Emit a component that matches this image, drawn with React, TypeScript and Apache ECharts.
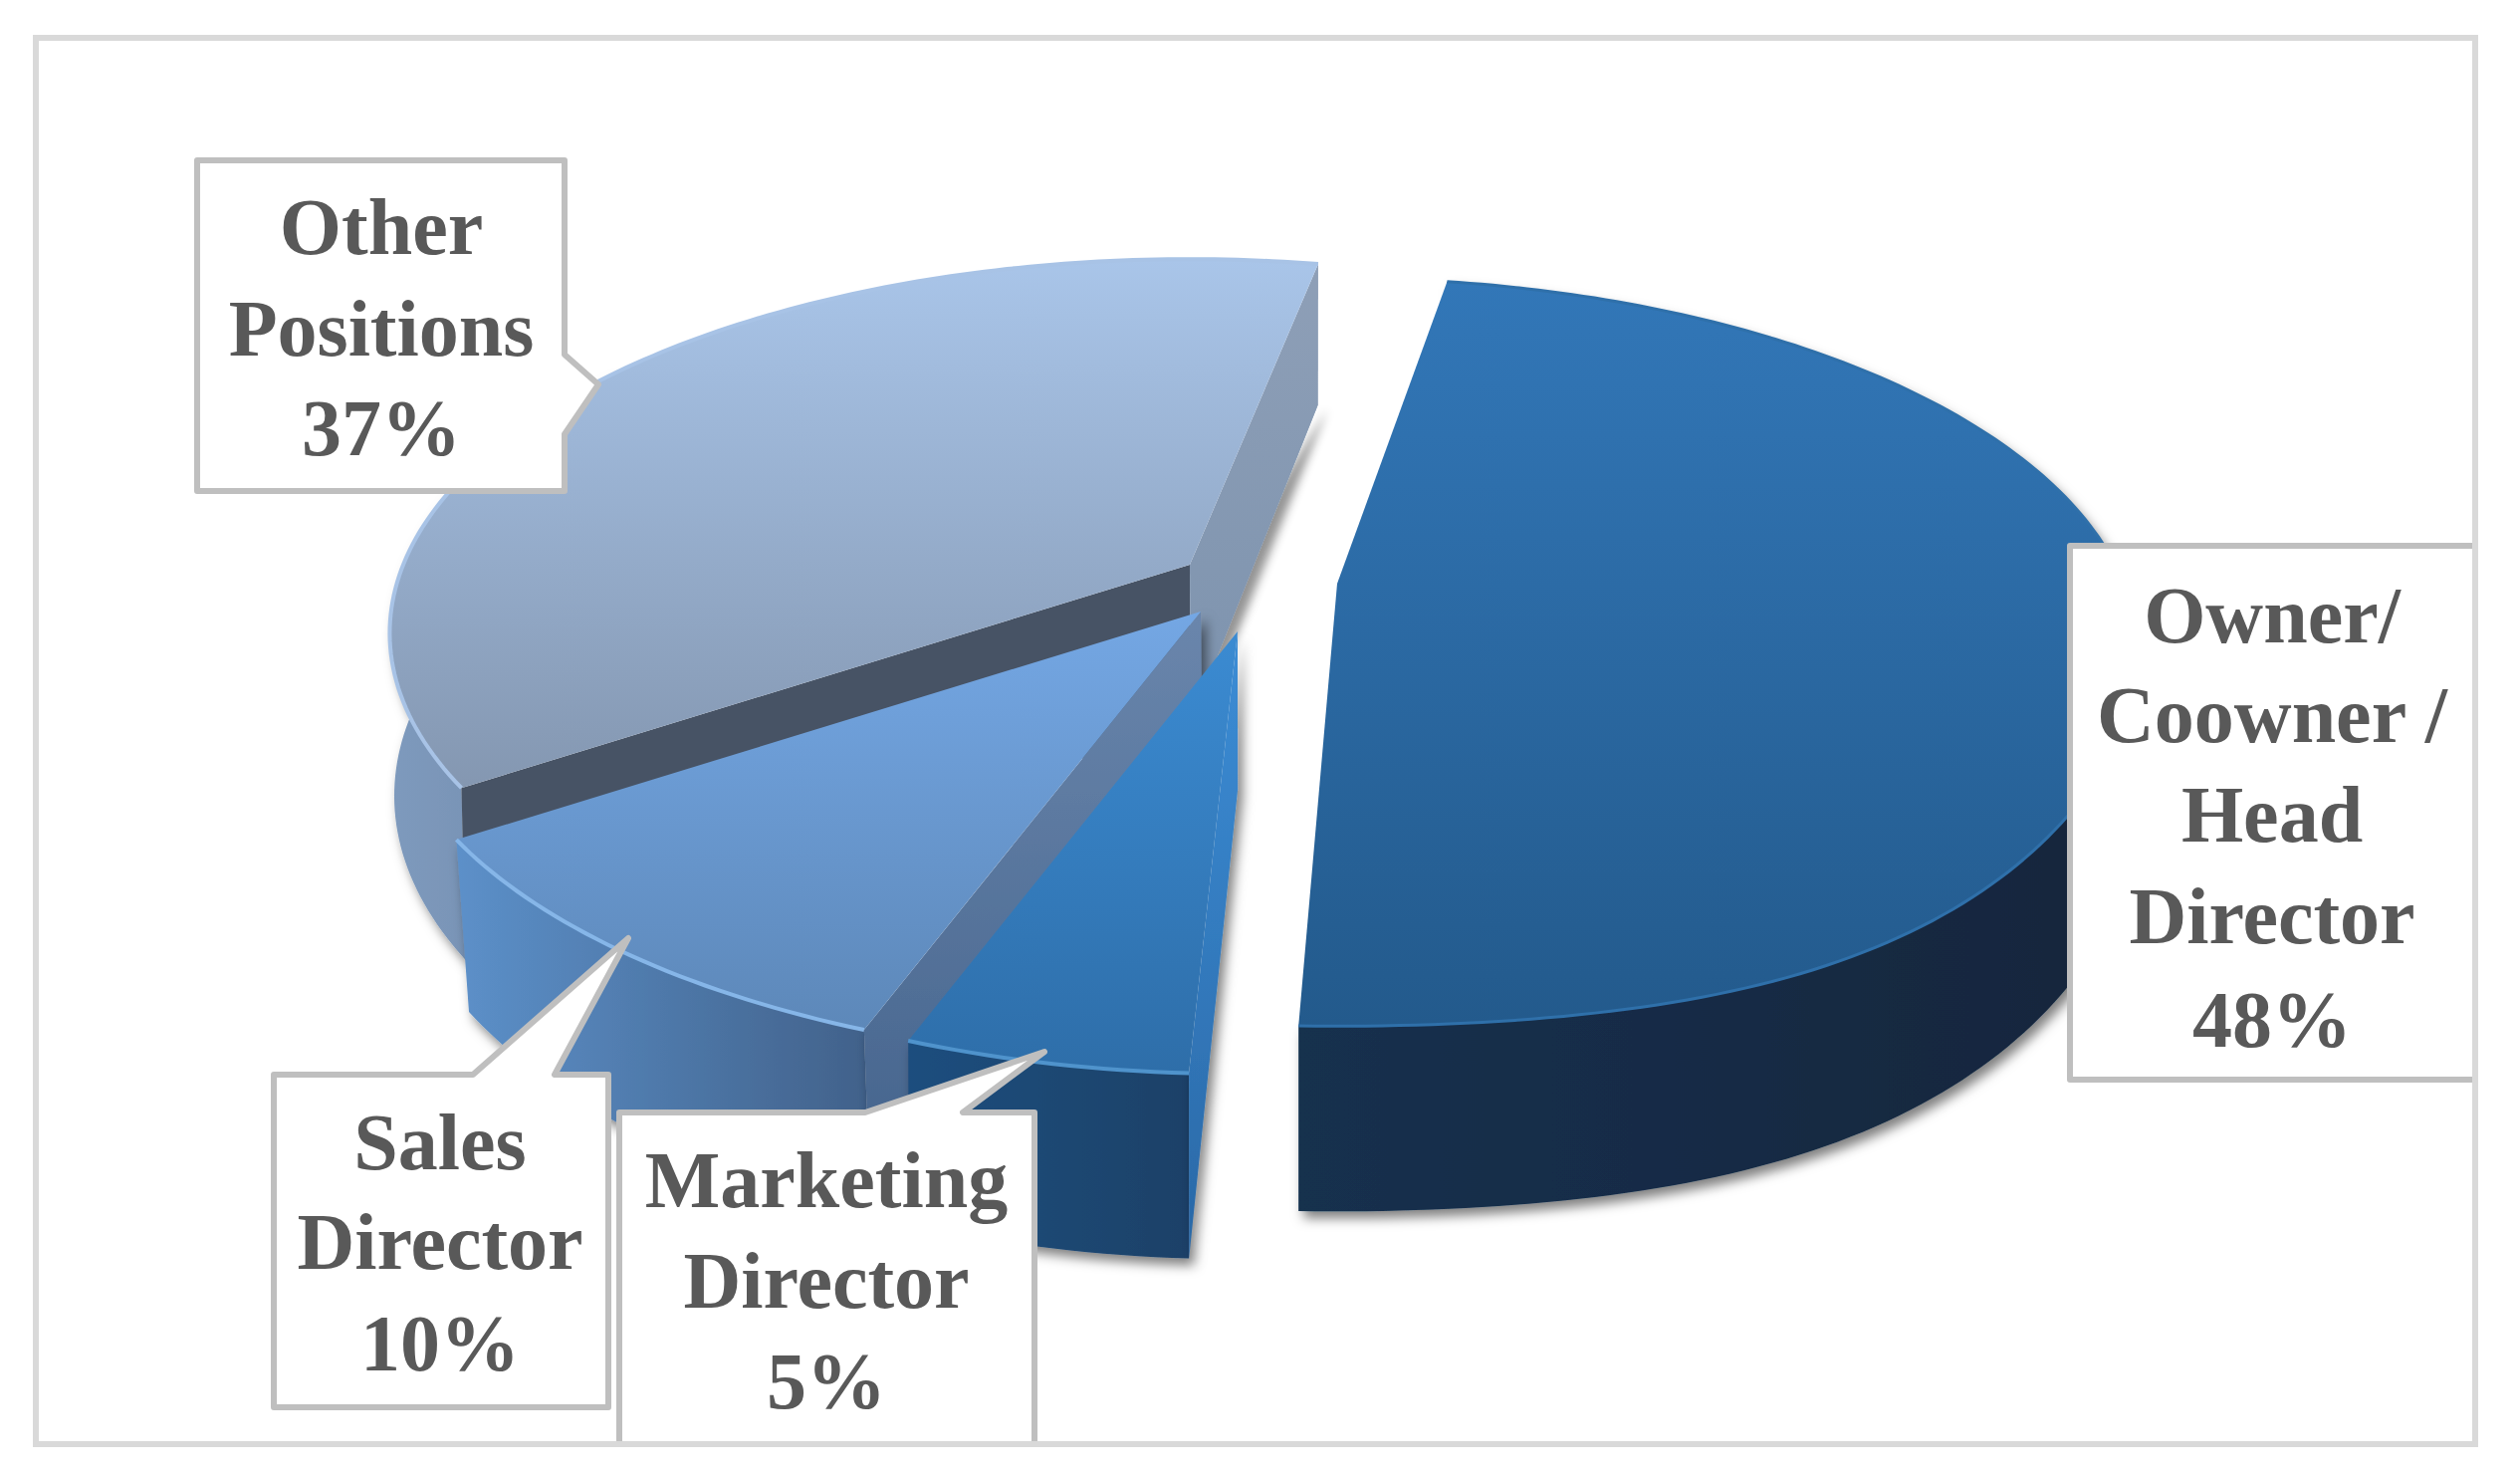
import React, { useEffect, useRef } from "react";
import * as echarts from "echarts";

const categories = ["Owner/Coowner/Head Director", "Marketing Director", "Sales Director", "Other Positions"];
const shares = [48, 5, 10, 37];
const labelLines = [
  ["Owner/", "Coowner /", "Head", "Director", "48%"],
  ["Marketing", "Director", "5%"],
  ["Sales", "Director", "10%"],
  ["Other", "Positions", "37%"],
];

const W = 2531;
const H = 1482;
const START_DEG = 9.5;
const RX = 790;
const RZ = 363;
const K = 0.183;
const VX = 1300;
const INK = "#595959";
const FONT = '"Liberation Serif", serif';

const grad = (a: string, b: string, horizontal = false) => ({
  type: "linear",
  x: 0,
  y: 0,
  x2: horizontal ? 1 : 0,
  y2: horizontal ? 0 : 1,
  colorStops: [
    { offset: 0, color: a },
    { offset: 1, color: b },
  ],
});

const looks: any[] = [
  { apex: [1343, 586], top: ["#3277b8", "#235a8c"], wall: ["#14304e", "#12263c"], rim: "#2f70aa", rimW: 3, bulge: 0.06, shrink: 0.999 },
  { apex: [1243, 634], top: ["#3b8bd2", "#2e6ea9"], wall: ["#1f4e7e", "#1d4168"], rim: "#4f93cc", rimW: 4, cut: ["#3c8dd6", "#2a68a6"], nudge: 0.6, shrink: 0.999 },
  { apex: [1206, 614], top: ["#74a7e4", "#5d88b9"], wall: ["#5c90c9", "#41618a"], rim: "#86b6e8", rimW: 4, cut: ["#6a86ac", "#42618a"], scale: 1.022, shrink: 0.985 },
  { apex: [1195, 567], top: ["#a9c5e9", "#8497b1"], wall: ["#7e9abd", "#6f88a9"], rim: "#a8c3e6", rimW: 4, cutEnd: ["#8e9fb7", "#7d93ae"], dark: "#475365", endExtra: 1.6, wallSpan: 70, shrink: 0.995 },
];

const total = shares.reduce((a, b) => a + b, 0);
const startOf = (i: number) => START_DEG + (shares.slice(0, i).reduce((a, b) => a + b, 0) / total) * 360;

function topPoint(i: number, deg: number) {
  const look = looks[i];
  const t = (deg * Math.PI) / 180;
  const c = Math.cos(t);
  const s = look.scale || 1;
  const z = -c;
  const w = 1 / (1 - K * z);
  const s2 = Math.sin(2 * t);
  const bulge = look.bulge && c < 0 ? 1 + look.bulge * s2 * s2 : 1;
  const [ax, ay] = look.apex;
  return { x: ax + s * RX * Math.sin(t) * w, y: ay + s * RZ * z * w * bulge, w };
}
const apexPoint = (i: number) => ({ x: looks[i].apex[0], y: looks[i].apex[1], w: 1 });
const drop = (i: number, p: { x: number; y: number; w: number }) => ({
  x: VX + (p.x - VX) * looks[i].shrink,
  y: p.y + 141 + (p.w - 0.846) * 119,
  w: p.w,
});
const xy = (p: { x: number; y: number }) => [p.x, p.y];

function renderSlice(params: any, api: any) {
  const i = api.value(1);
  const look = looks[i];
  const a0 = startOf(i) + (look.nudge || 0);
  const a1 = a0 + (api.value(0) / total) * 360 - (look.nudge || 0) + (look.endExtra || 0);
  const sample = (from: number, to: number) => {
    const out: any[] = [];
    const steps = Math.max(8, Math.round(to - from));
    for (let s = 0; s <= steps; s++) out.push(topPoint(i, from + ((to - from) * s) / steps));
    return out;
  };
  const arc = sample(a0, a1);
  const wallArc = look.wallSpan ? sample(a0, a0 + look.wallSpan) : arc;
  const apex = apexPoint(i);
  const first = arc[0];
  const last = arc[arc.length - 1];
  const down = (p: any) => drop(i, p);
  const children: any[] = [];
  const shadow = { shadowBlur: 12, shadowColor: "rgba(0,0,0,0.5)", shadowOffsetX: 5, shadowOffsetY: 7 };

  children.push({
    type: "polygon",
    shape: { points: [...wallArc.map(xy), ...wallArc.slice().reverse().map((p) => xy(down(p)))] },
    style: { fill: grad(look.wall[0], look.wall[1], true), ...shadow },
  });
  if (look.dark) {
    children.push({
      type: "polygon",
      shape: { points: [xy(apex), xy(first), xy(down(first)), xy(down(apex))] },
      style: { fill: look.dark },
    });
  }
  if (look.cutEnd) {
    // soft cast shadow only along the lower edge of the cut face
    children.push({
      type: "polygon",
      shape: { points: [xy(down(last)), xy(down(apex)), [apex.x + 5, apex.y + 40]] },
      style: { fill: look.cutEnd[1], shadowBlur: 10, shadowColor: "rgba(0,0,0,0.42)", shadowOffsetX: 9, shadowOffsetY: 5 },
    });
    children.push({
      type: "polygon",
      shape: { points: [xy(apex), xy(last), xy(down(last)), xy(down(apex))] },
      style: { fill: grad(look.cutEnd[0], look.cutEnd[1]) },
    });
  }
  if (look.cut) {
    children.push({
      type: "polygon",
      shape: { points: [xy(apex), xy(first), xy(down(first)), xy(down(apex))] },
      style: { fill: grad(look.cut[0], look.cut[1]), ...shadow },
    });
  }
  children.push({
    type: "polygon",
    shape: { points: [xy(apex), ...arc.map(xy)] },
    style: { fill: grad(look.top[0], look.top[1]) },
  });
  children.push({
    type: "polyline",
    shape: { points: arc.map(xy) },
    style: { stroke: look.rim, lineWidth: look.rimW, fill: "none" },
  });
  return { type: "group", children };
}

const STROKE = "#bfbfbf";
const callouts = [
  {
    points: [[2079, 548], [2486, 548], [2486, 1084], [2079, 1084]],
    cx: 2282,
    base: [644, 744, 844, 946, 1050],
  },
  {
    points: [[622, 1117], [869, 1117], [1049, 1056], [967, 1117], [1039, 1117], [1039, 1460], [622, 1460]],
    cx: 830,
    base: [1211, 1312, 1413],
  },
  {
    points: [[275, 1079], [475, 1079], [631, 942], [557, 1079], [611, 1079], [611, 1413], [275, 1413]],
    cx: 442,
    base: [1173, 1273, 1375],
  },
  {
    points: [[198, 161], [567, 161], [567, 356], [601, 386], [567, 436], [567, 493], [198, 493]],
    cx: 383,
    base: [254, 356, 456],
  },
];

export default function App() {
  const ref = useRef<HTMLDivElement>(null);
  useEffect(() => {
    document.body.style.margin = "0";
    const chart = echarts.init(ref.current!, undefined, { renderer: "svg" });
    const graphics: any[] = [];
    callouts.forEach((c, i) => {
      graphics.push({
        type: "polygon",
        z: 10,
        shape: { points: c.points },
        style: { fill: "#ffffff", stroke: STROKE, lineWidth: 6, lineJoin: "round" },
      });
      labelLines[i].forEach((line, j) => {
        graphics.push({
          type: "text",
          z: 11,
          x: c.cx,
          y: c.base[j] + 14,
          style: {
            text: line,
            fill: INK,
            font: `bold 80px ${FONT}`,
            textAlign: "center",
            textVerticalAlign: "bottom",
          },
        });
      });
    });
    graphics.push({
      type: "rect",
      z: 12,
      shape: { x: 0, y: 1453, width: W, height: 29 },
      style: { fill: "#ffffff" },
    });
    graphics.push({
      type: "rect",
      z: 13,
      shape: { x: 36, y: 38, width: 2450, height: 1412 },
      style: { fill: "none", stroke: "#d9d9d9", lineWidth: 6 },
    });
    chart.setOption({
      animation: false,
      backgroundColor: "#ffffff",
      series: [
        {
          type: "custom",
          coordinateSystem: "none",
          renderItem: renderSlice,
          silent: true,
          data: [3, 2, 1, 0].map((i) => ({ name: categories[i], value: [shares[i], i] })),
        },
      ],
      graphic: { elements: graphics },
    });
    return () => chart.dispose();
  }, []);
  return <div ref={ref} style={{ width: W, height: H }} />;
}
